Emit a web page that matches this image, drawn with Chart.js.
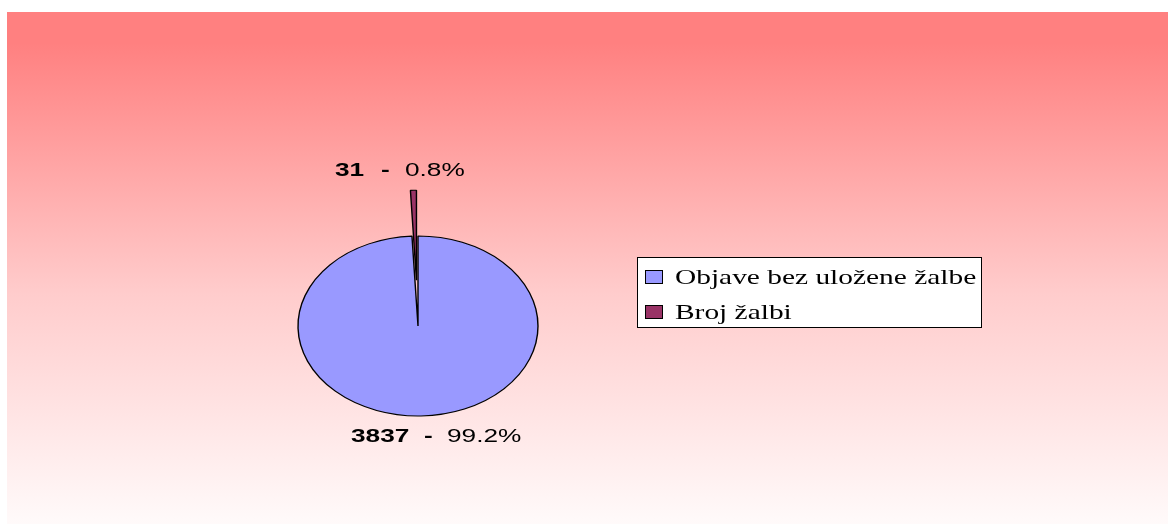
<!DOCTYPE html>
<html>
<head>
<meta charset="utf-8">
<script src="https://cdn.jsdelivr.net/npm/chart.js@4/dist/chart.umd.min.js"></script>
<style>
  html, body { margin:0; padding:0; background:#fff; }
  #wrap { width:1168px; height:524px; position:relative; }
</style>
</head>
<body>
<div id="wrap"><canvas id="pie" width="1168" height="524"></canvas></div>
<script>
// data
const labels = ['Objave bez uložene žalbe', 'Broj žalbi'];
const counts = [3837, 31];
const percents = ['99.2%', '0.8%'];
const colors = ['#9999ff', '#993366'];
const explode = [0, 61]; // pulled-out distance of each slice

const CX = 418, CY = 326, SQUASH = 0.75;
const STRETCH = 1.38; // text in the original is drawn wide

// gradient frame behind everything
const bgPlugin = {
  id: 'bg',
  beforeDraw(chart){
    const ctx = chart.ctx;
    const g = ctx.createLinearGradient(0, 12, 0, 524);
    g.addColorStop(0, '#ff8080');
    g.addColorStop(0.06, '#ff8080');
    g.addColorStop(0.55, '#ffcccc');
    g.addColorStop(1, '#fffafa');
    ctx.save();
    ctx.fillStyle = g;
    ctx.fillRect(7, 12, 1161, 512);
    ctx.restore();
  }
};

// flatten the pie into an ellipse, and pull slices out without
// stretching them (chart.js' own offset lengthens the arc instead)
const squashPlugin = {
  id: 'squash',
  beforeDatasetsDraw(chart){
    const meta = chart.getDatasetMeta(0);
    meta.data.forEach((arc, i)=>{
      const d = explode[i] || 0;
      if (!d || arc._exploded) return;
      const orig = arc.draw.bind(arc);
      arc.draw = function(ctx){
        const a = (this.startAngle + this.endAngle) / 2;
        ctx.save();
        ctx.translate(Math.cos(a) * d, Math.sin(a) * d);
        orig(ctx);
        ctx.restore();
      };
      arc._exploded = true;
    });
    const ctx = chart.ctx;
    ctx.save();
    ctx.translate(CX, CY);
    ctx.scale(1, SQUASH);
    ctx.translate(-CX, -CY);
  },
  afterDatasetsDraw(chart){
    chart.ctx.restore();
  }
};

function wideText(ctx, txt, x, y, font, sx){
  ctx.save();
  ctx.translate(x, y);
  ctx.scale(sx || STRETCH, 1);
  ctx.font = font;
  ctx.textAlign = 'left';
  ctx.textBaseline = 'middle';
  ctx.fillText(txt, 0, 0);
  ctx.restore();
}

const BOLD = 'bold 19px "Liberation Sans", Arial, sans-serif';
const REG = '19px "Liberation Sans", Arial, sans-serif';

// slice labels + legend box
const labelPlugin = {
  id: 'labelsLegend',
  afterDraw(chart){
    const ctx = chart.ctx;
    ctx.save();
    ctx.fillStyle = '#000';
    // big slice
    wideText(ctx, String(counts[0]), 351, 437, BOLD);
    wideText(ctx, '-', 424, 437, BOLD);
    wideText(ctx, percents[0], 447, 437, REG);
    // small slice
    wideText(ctx, String(counts[1]), 335, 171, BOLD);
    wideText(ctx, '-', 381, 171, BOLD);
    wideText(ctx, percents[1], 405, 171, REG);

    // legend
    ctx.fillStyle = '#fff';
    ctx.fillRect(637.5, 257.5, 344, 70);
    ctx.strokeStyle = '#000';
    ctx.lineWidth = 1;
    ctx.strokeRect(637.5, 257.5, 344, 70);
    const rows = [277, 312];
    chart.data.labels.forEach((lab, i)=>{
      ctx.fillStyle = chart.data.datasets[0].backgroundColor[i];
      ctx.fillRect(645.5, rows[i] - 6.5, 17, 13);
      ctx.strokeRect(645.5, rows[i] - 6.5, 17, 13);
      ctx.fillStyle = '#000';
      wideText(ctx, lab, 675, rows[i] + 1, '21px "Liberation Serif", "Times New Roman", serif', 1.4);
    });
    ctx.restore();
  }
};

new Chart(document.getElementById('pie'), {
  type: 'pie',
  data: {
    labels: labels,
    datasets: [{
      data: counts,
      backgroundColor: colors,
      borderColor: '#000',
      borderWidth: 1.4
    }]
  },
  options: {
    responsive: false,
    animation: false,
    radius: 120,
    layout: { padding: { left: 298, right: 630, top: 206, bottom: 78 } },
    plugins: {
      legend: { display: false },
      tooltip: { enabled: false }
    }
  },
  plugins: [bgPlugin, squashPlugin, labelPlugin]
});
</script>
</body>
</html>
